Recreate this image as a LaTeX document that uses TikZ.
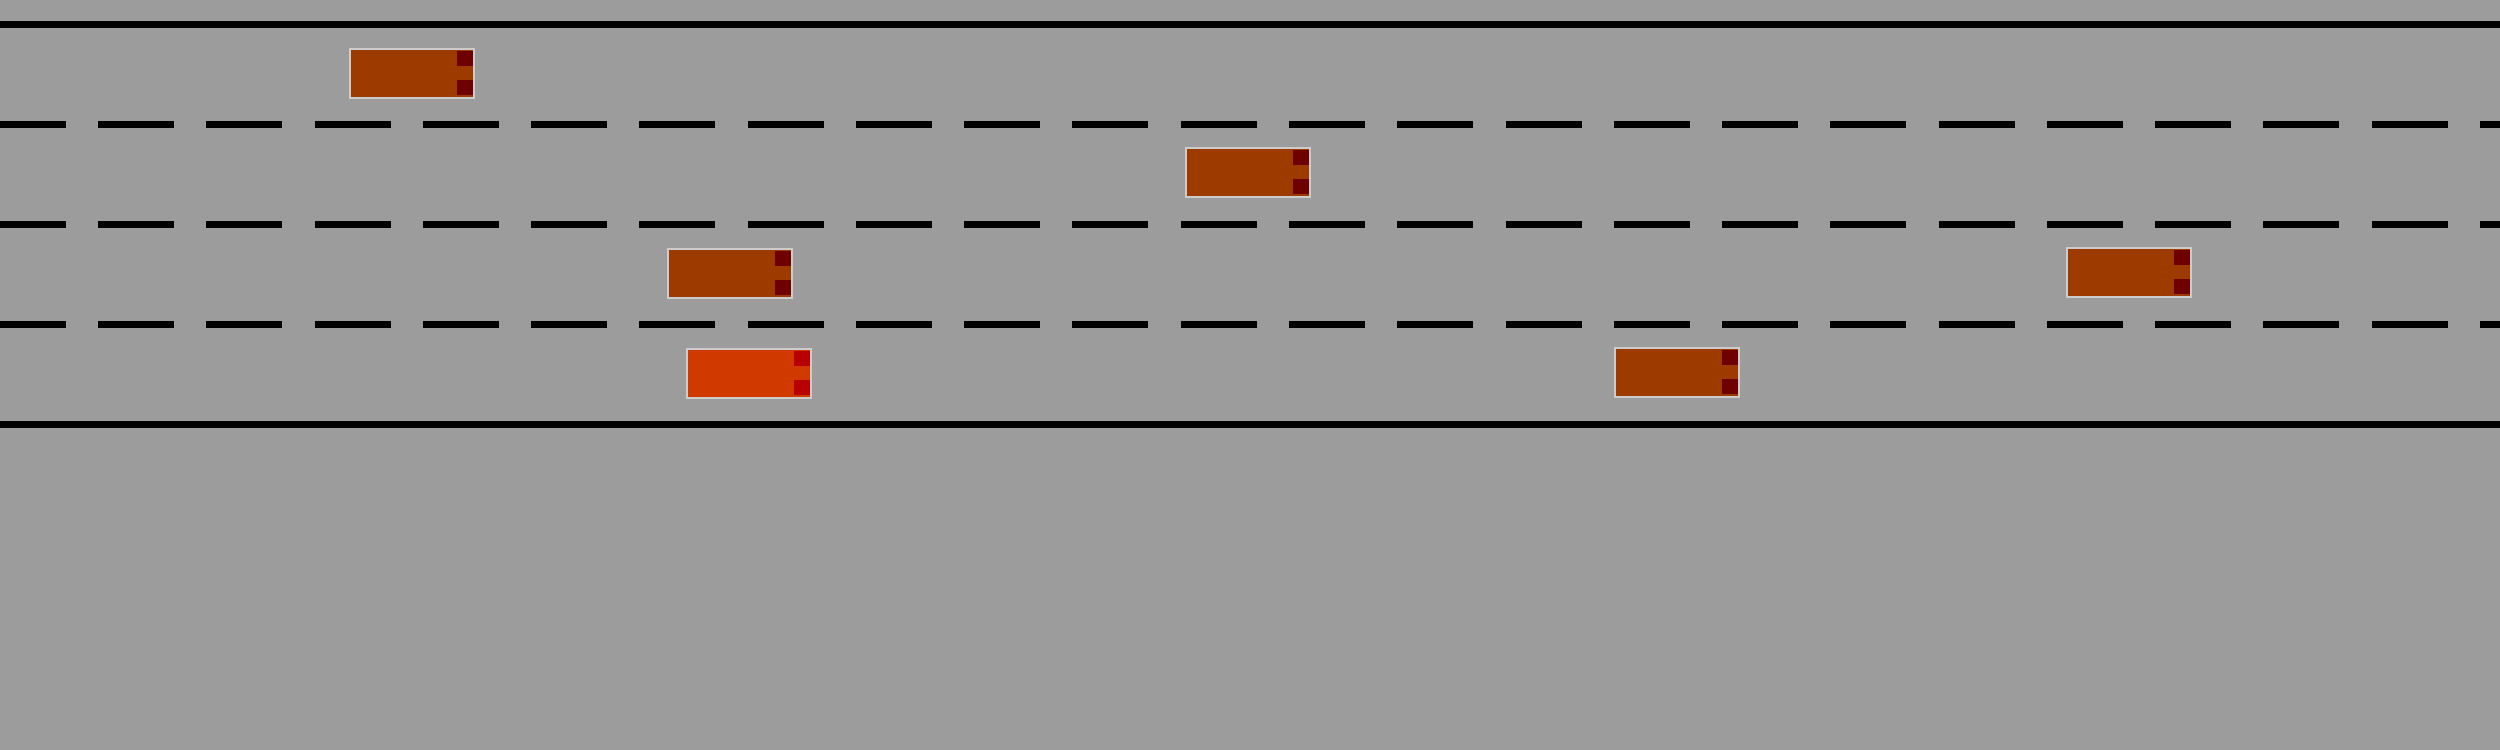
\documentclass[tikz,border=0pt]{standalone}
\definecolor{roadgray}{RGB}{156,156,156}
\definecolor{carbrown}{RGB}{156,58,0}
\definecolor{egored}{RGB}{208,58,0}
\definecolor{lightdark}{RGB}{110,0,0}
\definecolor{lightred}{RGB}{184,0,0}
\definecolor{rimgray}{RGB}{204,204,204}
\tikzset{
  solidmark/.style={line width=0.7mm, black},
  lanemark/.style={line width=0.7mm, black, dash pattern=on 7.6mm off 3.227mm, dash phase=1.027mm},
  carbody/.style={draw=rimgray, line width=0.12mm, anchor=north west, minimum width=12.4mm, minimum height=4.9mm, inner sep=0pt, outer sep=0pt},
  pics/vehicle/.style 2 args={code={
    \node[carbody, fill=#1] (-body) at (0,0) {};
    \fill[#2] (107,2) rectangle (123,17);
    \fill[#2] (107,31) rectangle (123,46);
  }},
}
\begin{document}
\begin{tikzpicture}[x=0.1mm,y=-0.1mm]
\fill[roadgray] (0,0) rectangle (2500,750);
\useasboundingbox (0,0) rectangle (2500,750);
% road edges
\draw[solidmark] (0,24.5) -- (2500,24.5);
\draw[solidmark] (0,424.5) -- (2500,424.5);
% lane markings
\draw[lanemark] (0,124.5) -- (2500,124.5);
\draw[lanemark] (0,224.5) -- (2500,224.5);
\draw[lanemark] (0,324.5) -- (2500,324.5);
% vehicles
\pic (A) at (350,49) {vehicle={carbrown}{lightdark}};
\pic (B) at (1186,148) {vehicle={carbrown}{lightdark}};
\pic (C) at (668,249) {vehicle={carbrown}{lightdark}};
\pic (D) at (2067,248) {vehicle={carbrown}{lightdark}};
\pic (E) at (1615,348) {vehicle={carbrown}{lightdark}};
\pic (ego) at (687,349) {vehicle={egored}{lightred}};
\end{tikzpicture}
\end{document}
